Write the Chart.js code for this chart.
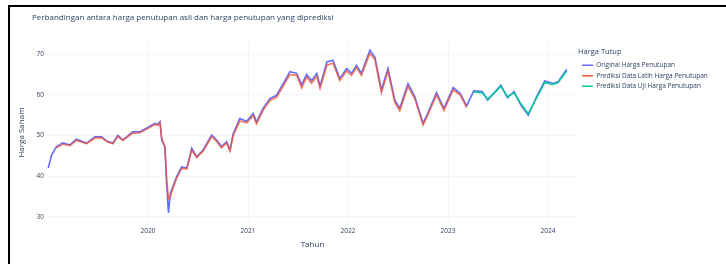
<!DOCTYPE html>
<html><head><meta charset="utf-8">
<script src="https://cdn.jsdelivr.net/npm/chart.js@4.4.1/dist/chart.umd.min.js"></script>
<style>
html,body{margin:0;padding:0;background:#fff;overflow:hidden;width:726px;height:264px;}
#wrap{position:absolute;left:0;top:0;width:900px;height:264px;}
#frame{position:absolute;left:8px;top:5px;width:800px;height:400px;border-top:2px solid #000;border-left:2px solid #000;pointer-events:none;}
</style></head><body>
<div id="wrap"><canvas id="c" width="900" height="264"></canvas></div>
<div id="frame"></div>
<script>
const dates = ['2019-01-02','2019-01-14','2019-02-01','2019-02-24','2019-03-22','2019-04-15','2019-05-22','2019-06-21','2019-07-15','2019-08-07','2019-08-26','2019-09-13','2019-10-01','2019-11-06','2019-12-02',
'2020-01-08','2020-01-26','2020-02-06','2020-02-14','2020-02-20','2020-03-03','2020-03-09','2020-03-16','2020-03-23','2020-04-01','2020-04-15','2020-05-03','2020-05-22','2020-06-09','2020-06-27','2020-07-20','2020-08-21','2020-09-08','2020-09-26','2020-10-15','2020-10-27','2020-11-08','2020-12-02','2020-12-27',
'2021-01-20','2021-02-01','2021-02-25','2021-03-22','2021-04-15','2021-05-10','2021-06-03','2021-06-28','2021-07-16','2021-08-03','2021-08-21','2021-09-09','2021-09-21','2021-10-16','2021-11-07','2021-12-02','2021-12-27',
'2022-01-14','2022-02-01','2022-02-19','2022-03-22','2022-04-09','2022-05-03','2022-05-27','2022-06-21','2022-07-09','2022-08-08','2022-09-02','2022-10-02','2022-10-21','2022-11-20','2022-12-17',
'2023-01-20','2023-02-14','2023-03-10','2023-04-05','2023-05-06','2023-05-26','2023-07-13','2023-08-06','2023-08-30','2023-09-24','2023-10-21','2023-11-20','2023-12-20',
'2024-01-20','2024-02-07','2024-03-03','2024-03-10'];
const closeOriginal = [42.0,45.2,47.3,48.2,47.7,49.1,48.1,49.7,49.7,48.5,48.2,50.1,48.9,50.9,50.9,
52.3,53.0,52.7,53.4,48.9,47.3,38.3,31.0,35.9,37.4,39.9,42.3,42.0,46.9,44.8,46.4,50.1,48.9,47.3,48.5,46.4,50.5,54.2,53.5,
55.4,53.3,56.7,59.1,59.9,62.8,65.7,65.3,62.5,65.0,63.5,65.3,62.2,68.1,68.5,64.0,66.5,
65.3,67.3,65.3,71.0,69.3,61.2,66.5,58.7,56.7,62.8,59.5,53.0,55.8,60.6,56.7,
61.8,60.4,57.3,61.0,60.8,58.7,62.4,59.3,60.8,57.5,55.0,59.5,63.4,
62.8,63.2,65.7,66.3];
const trainDates = dates.slice(2, 74);
const trainPred = [47.0,47.9,47.5,48.8,48.0,49.4,49.5,48.4,48.0,49.8,48.8,50.6,50.7,
52.0,52.7,52.5,53.1,49.5,47.0,39.5,34.5,35.0,37.0,39.5,41.9,41.8,46.4,44.6,46.1,49.7,48.6,47.0,48.2,46.2,50.0,53.6,53.1,
54.9,52.9,56.2,58.6,59.4,62.2,65.0,64.8,61.7,64.4,62.9,64.6,61.6,67.3,67.8,63.5,65.9,
64.8,66.7,64.8,70.2,68.7,60.6,65.8,58.1,56.1,62.1,59.0,52.6,55.3,60.0,56.2,
61.2,60.0,56.9];
const testDates = dates.slice(74);
const testPred = [60.7,60.5,58.9,62.1,59.5,60.5,57.8,55.4,59.2,63.0,62.6,63.0,65.3,65.9];
const yearTicks = [2020,2021,2022,2023,2024];
const valueTicks = [30,40,50,60,70];
const seriesNames = ['Original Harga Penutupan','Prediksi Data Latih Harga Penutupan','Prediksi Data Uji Harga Penutupan'];

function toYear(s){const [y,m,d]=s.split('-').map(Number);const a=Date.UTC(y,0,1),b=Date.UTC(y+1,0,1);return y+(Date.UTC(y,m-1,d)-a)/(b-a);}
function pts(ds,vs){return ds.map((d,i)=>({x:toYear(d),y:vs[i]}));}

const TXT='#2a3f5f', FONT='"Open Sans", sans-serif';
const chart = new Chart(document.getElementById('c'), {
  type:'line',
  data:{datasets:[
    {label:seriesNames[0],data:pts(dates,closeOriginal),borderColor:'#636efa',backgroundColor:'#636efa',borderWidth:1.6,pointRadius:0,order:3},
    {label:seriesNames[1],data:pts(trainDates,trainPred),borderColor:'rgba(239,85,59,0.8)',backgroundColor:'#EF553B',borderWidth:1.6,pointRadius:0,order:2},
    {label:seriesNames[2],data:pts(testDates,testPred),borderColor:'rgba(0,204,150,0.9)',backgroundColor:'#00cc96',borderWidth:1.6,pointRadius:0,order:1}
  ]},
  options:{
    responsive:false,animation:false,
    layout:{padding:{left:32,top:0,right:10,bottom:0}},
    plugins:{
      title:{display:true,text:'Perbandingan antara harga penutupan asli dan harga penutupan yang diprediksi',align:'start',color:TXT,font:{family:FONT,size:8,weight:'normal'},padding:{top:13,bottom:19.4}},
      legend:{display:true,position:'right',align:'start',
        title:{display:true,position:'start',text:'Harga Tutup',color:TXT,font:{family:FONT,size:7.5},padding:{top:48,bottom:1}},
        labels:{color:TXT,font:{family:FONT,size:6.5,lineHeight:1.6},boxWidth:11,boxHeight:1.5,padding:4,
          sort:(a,b)=>a.datasetIndex-b.datasetIndex,
          generateLabels:(ch)=>ch.data.datasets.map((ds,i)=>({text:ds.label,fillStyle:ds.backgroundColor,strokeStyle:ds.backgroundColor,lineWidth:0,datasetIndex:i,hidden:false,fontColor:TXT}))}},
      tooltip:{enabled:false}
    },
    scales:{
      x:{type:'linear',min:2018.99,max:2024.30,
        afterFit:(s)=>{s.height=41;},
        afterBuildTicks:(s)=>{s.ticks=yearTicks.map(v=>({value:v}));},
        ticks:{color:TXT,font:{family:FONT,size:6.5},padding:4,callback:(v)=>String(v),maxRotation:0},
        grid:{color:'#F3F5FA',drawTicks:false},border:{display:false},
        title:{display:true,text:'Tahun',color:TXT,font:{family:FONT,size:8},padding:{top:0,bottom:14.2}}},
      y:{type:'linear',min:28.5,max:73,
        afterFit:(s)=>{s.width=15;},
        afterBuildTicks:(s)=>{s.ticks=valueTicks.map(v=>({value:v}));},
        ticks:{color:TXT,font:{family:FONT,size:6.5},padding:3},
        grid:{color:'#F3F5FA',drawTicks:false},border:{display:false},
        title:{display:true,text:'Harga Saham',color:TXT,font:{family:FONT,size:8},padding:{top:-14.8,bottom:0}}}
    }
  }
});
const lw = chart.legend.width;
chart.options.layout.padding.right = 900 - 578 - lw;
chart.update('none');
</script>
</body></html>
